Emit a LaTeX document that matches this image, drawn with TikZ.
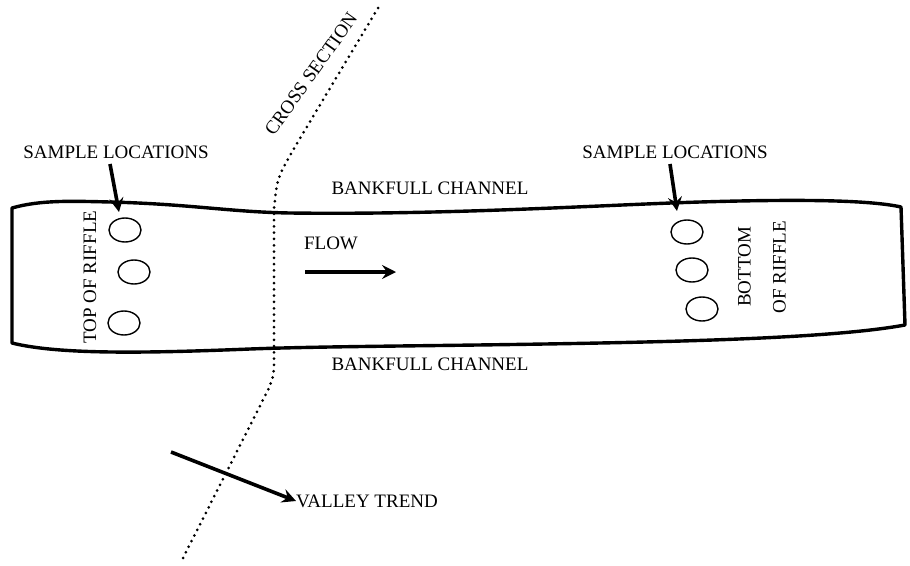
\documentclass[tikz,border=0pt]{standalone}
\usepackage{fontspec}
\setmainfont{Liberation Serif}
\usetikzlibrary{arrows.meta,shapes.geometric}
\begin{document}
\begin{tikzpicture}[x=1pt,y=-1pt,
  lbl/.style={font=\fontsize{19}{35}\selectfont, inner sep=0pt},
  bank/.style={line width=3.4pt, line join=round},
  hole/.style={draw, ellipse, line width=1.4pt, minimum width=32pt, minimum height=24pt, inner sep=0pt},
  arr/.style={line width=3.6pt, -{Stealth[length=14pt,width=14pt,inset=5pt]}},
  xsec/.style={line width=3pt, line cap=round, dash pattern=on 0pt off 6.3pt}]
\path[use as bounding box] (0,0) rectangle (910,565);
% channel outline
\draw[bank] (12,208) .. controls (40,200) and (70,201) .. (110,202)
  .. controls (190,204) and (230,212) .. (290,213)
  .. controls (450,215) and (600,205) .. (700,202)
  .. controls (800,199) and (870,200) .. (901,207)
  -- (905,325)
  .. controls (850,335) and (750,340) .. (600,343)
  .. controls (450,346) and (330,346) .. (250,349)
  .. controls (150,353) and (60,355) .. (12,343) -- cycle;
% cross section
\draw[xsec] (378,8) -- (296,145) .. controls (277,178) .. (274,210) -- (274,368)
  .. controls (273,378) .. (268,390) -- (182,560);
% sample holes
\node[hole] (l1) at (125,230) {};
\node[hole] (l2) at (134,272) {};
\node[hole] (l3) at (124,323) {};
\node[hole] (r1) at (687,232) {};
\node[hole] (r2) at (692,270) {};
\node[hole] (r3) at (702,309) {};
% labels
\node[lbl] (sl1) at (116,152) {SAMPLE LOCATIONS};
\node[lbl] (sl2) at (675,152) {SAMPLE LOCATIONS};
\node[lbl] (bct) at (430,188) {BANKFULL CHANNEL};
\node[lbl] (bcb) at (430,364) {BANKFULL CHANNEL};
\node[lbl] (flow) at (331,243) {FLOW};
\node[lbl, rotate=90] (top) at (90,277) {TOP OF RIFFLE};
\node[lbl, rotate=90, align=center] (bot) at (762,267) {BOTTOM\\OF RIFFLE};
\node[lbl, rotate=54.5] (xs) at (311,74) {CROSS SECTION};
\node[lbl, anchor=west] (vt) at (296,501) {VALLEY TREND};
% arrows
\coordinate (a1s) at (110,164);
\coordinate (a1e) at (119,212);
\coordinate (a2s) at (670,164);
\coordinate (a2e) at (677,211);
\coordinate (fs) at (305,272);
\coordinate (fe) at (396,272);
\coordinate (vs) at (171,452);
\draw[arr] (a1s) -- (a1e);
\draw[arr] (a2s) -- (a2e);
\draw[arr] (fs) -- (fe);
\draw[arr] (vs) -- (vt.west);
\end{tikzpicture}
\end{document}
